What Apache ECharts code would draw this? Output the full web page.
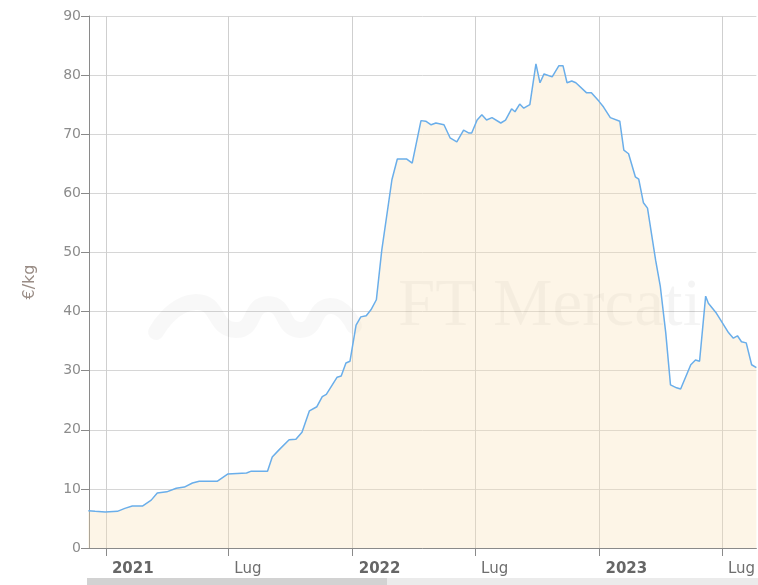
<!DOCTYPE html>
<html>
<head>
<meta charset="utf-8">
<script src="https://cdn.jsdelivr.net/npm/echarts@6/dist/echarts.min.js"></script>
<style>
html,body{margin:0;padding:0;background:#fff;}
#chart{width:758px;height:585px;}
</style>
</head>
<body>
<div id="chart"></div>
<script>
// Data (date, €/kg)
const dates = [
'2020-12-06','2020-12-16','2020-12-31','2021-01-18','2021-01-29','2021-02-09','2021-02-24','2021-03-09','2021-03-18','2021-04-01',
'2021-04-15','2021-04-27','2021-05-09','2021-05-19','2021-06-15','2021-06-30','2021-07-28','2021-08-04','2021-08-28','2021-09-04',
'2021-09-14','2021-09-29','2021-10-09','2021-10-18','2021-10-29','2021-11-09','2021-11-17','2021-11-23','2021-12-09','2021-12-15',
'2021-12-22','2021-12-28','2022-01-06','2022-01-13','2022-01-21','2022-01-28','2022-02-05','2022-02-13','2022-02-28','2022-03-08',
'2022-03-22','2022-03-30','2022-04-12','2022-04-19','2022-04-27','2022-05-04','2022-05-16','2022-05-25','2022-06-04','2022-06-14',
'2022-06-22','2022-06-26','2022-07-04','2022-07-11','2022-07-18','2022-07-26','2022-08-08','2022-08-15','2022-08-24','2022-08-29',
'2022-09-05','2022-09-11','2022-09-20','2022-09-29','2022-10-05','2022-10-11','2022-10-23','2022-11-02','2022-11-08','2022-11-14',
'2022-11-21','2022-11-27','2022-12-13','2022-12-20','2022-12-31','2023-01-07','2023-01-17','2023-01-31','2023-02-06','2023-02-13',
'2023-02-23','2023-02-28','2023-03-07','2023-03-13','2023-03-25','2023-04-01','2023-04-09','2023-04-16','2023-04-25','2023-05-01',
'2023-05-16','2023-05-23','2023-05-29','2023-06-07','2023-06-11','2023-06-23','2023-07-11','2023-07-18','2023-07-24','2023-07-30',
'2023-08-06','2023-08-14','2023-08-21'
];
const prices = [
6.3,6.2,6.1,6.2,6.7,7.1,7.1,8.1,9.3,9.5,
10.1,10.3,11.0,11.3,11.3,12.5,12.7,13.0,13.0,15.4,
16.6,18.3,18.4,19.6,23.2,23.9,25.6,26.0,28.9,29.1,
31.3,31.6,37.7,39.1,39.3,40.3,42.0,50.4,62.3,65.8,
65.8,65.1,72.3,72.2,71.6,71.9,71.6,69.4,68.7,70.7,
70.2,70.2,72.4,73.3,72.4,72.8,71.9,72.4,74.3,73.8,
75.1,74.4,75.0,81.9,78.7,80.2,79.7,81.6,81.6,78.7,
79.0,78.7,77.0,77.0,75.6,74.6,72.8,72.2,67.3,66.7,
62.8,62.4,58.4,57.5,48.7,44.2,36.4,27.6,27.1,26.9,
31.0,31.8,31.6,42.6,41.4,39.7,36.4,35.5,35.9,34.9,
34.7,31.0,30.5
];
const tickDates = ['2021-01-01','2021-07-01','2022-01-01','2022-07-01','2023-01-01','2023-07-01'];
const tickLabels = ['2021','Lug','2022','Lug','2023','Lug'];
const yTicks = [0,10,20,30,40,50,60,70,80,90];
const axisMin = '2020-12-07';
const axisMax = '2023-08-21';

const ts = s => new Date(s + 'T00:00:00Z').getTime();
const tickValues = tickDates.map(ts);
const labelFor = {};
tickValues.forEach((v,i)=>{ labelFor[v] = tickLabels[i]; });

const chart = echarts.init(document.getElementById('chart'), null, {renderer:'canvas'});
chart.setOption({
  animation:false,
  backgroundColor:'#fff',
  grid:{left:89,right:0,top:16,bottom:37,containLabel:false},
  xAxis:{
    type:'value',
    min:ts(axisMin),
    max:ts(axisMax),
    axisLine:{show:true,onZero:false,lineStyle:{color:'#8a8a8a',width:1}},
    axisTick:{show:true,length:8,lineStyle:{color:'#8a8a8a'},customValues:tickValues},
    axisLabel:{
      customValues:tickValues,
      showMinLabel:true,showMaxLabel:true,
      margin:14,
      align:'left',
      padding:[0,0,0,6],
      formatter:function(v){
        const t = labelFor[v] || '';
        return t === 'Lug' ? '{m|'+t+'}' : '{y|'+t+'}';
      },
      rich:{
        y:{fontFamily:'DejaVu Sans',fontWeight:'bold',fontSize:15,color:'#666'},
        m:{fontFamily:'DejaVu Sans',fontSize:15,color:'#6e6e6e'}
      }
    },
    splitLine:{show:true,lineStyle:{color:'#cfcfcf',width:1}}
  },
  yAxis:{
    type:'value',
    min:0,max:90,interval:10,
    name:'€/kg',
    nameLocation:'middle',
    nameGap:51,
    nameTextStyle:{fontFamily:'DejaVu Sans',fontSize:16,color:'#9a8d86'},
    axisLine:{show:true,lineStyle:{color:'#8a8a8a',width:1}},
    axisTick:{show:true,length:8,lineStyle:{color:'#8a8a8a'}},
    axisLabel:{margin:8,fontFamily:'DejaVu Sans',fontSize:14,color:'#8c8c8c',
      formatter:function(v){ return yTicks.indexOf(v)>=0 ? String(v) : ''; }},
    splitLine:{show:true,lineStyle:{color:'#d6d6d6',width:1}}
  },
  graphic:[
    {type:'polyline',z:1,silent:true,
      shape:{points:[[156,332],[196,302],[236,330],[268,304],[300,330],[330,306],[354,326]],smooth:0.6},
      style:{stroke:'rgba(0,0,0,0.028)',lineWidth:16,fill:null,lineCap:'round',shadowBlur:10,shadowColor:'rgba(0,0,0,0.03)'}},
    {type:'text',z:1,silent:true,left:398,top:274,
      style:{text:'FT Mercati',font:'67px "Liberation Serif"',fill:'rgba(0,0,0,0.045)'}},
    {type:'rect',z:1,silent:true,shape:{x:87,y:578,width:671,height:7},style:{fill:'#ebebeb'}},
    {type:'rect',z:1,silent:true,shape:{x:87,y:578,width:300,height:7},style:{fill:'#d2d2d2'}}
  ],
  series:[{
    type:'line',
    data:dates.map((d,i)=>[ts(d),prices[i]]),
    showSymbol:false,
    symbol:'none',
    smooth:false,
    lineStyle:{color:'#6aaeea',width:1.5},
    areaStyle:{color:'rgba(250,225,180,0.45)'},
    z:2
  }]
});
</script>
</body>
</html>
